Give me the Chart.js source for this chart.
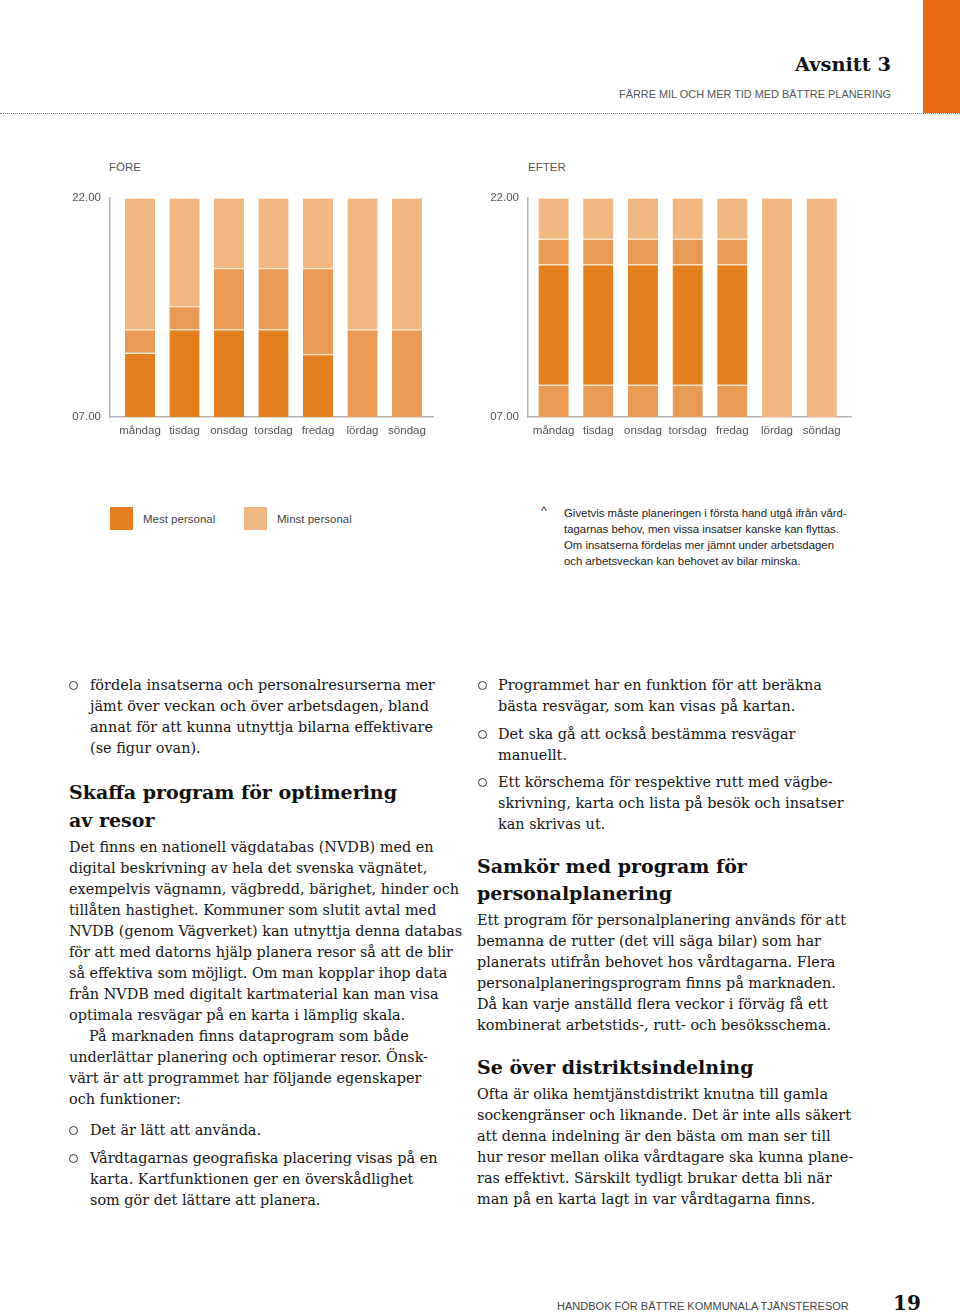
<!DOCTYPE html>
<html lang="sv">
<head>
<meta charset="utf-8">
<script src="https://cdn.jsdelivr.net/npm/chart.js@4/dist/chart.umd.min.js"></script>
<style>
  html, body { margin: 0; padding: 0; background: #fff; }
  body { width: 960px; height: 1314px; position: relative; overflow: hidden; font-family: "Liberation Sans", Arial, sans-serif; color: #222; }
  .abs { position: absolute; white-space: nowrap; }
  .flik { position: absolute; left: 923px; top: 0; width: 37px; height: 113px; background: #e8690f; }
  .prickar { position: absolute; left: 0; top: 113px; width: 960px; height: 0; border-top: 1.5px dotted #777; }
  .sans { font-family: "Liberation Sans", Arial, sans-serif; color: #444; }
  .serif { font-family: "DejaVu Serif", serif; color: #161616; }
  .rubrik { font-family: "DejaVu Serif", serif; font-weight: bold; color: #111; }
  .rad { line-height: 21px; height: 21px; }
  .punkt { position: absolute; width: 7px; height: 7px; border: 1px solid #333; border-radius: 50%; }
  .ruta { position: absolute; width: 23px; height: 23px; }
  .diagram { position: absolute; width: 380px; height: 260px; }
</style>
</head>
<body>
<div class="flik"></div>
<div class="prickar"></div>

<div class="diagram" style="left:60px; top:182px;"><canvas id="fore"></canvas></div>
<div class="diagram" style="left:478px; top:182px;"><canvas id="efter"></canvas></div>

<div id="sida"></div>

<script>
// veckodagar och axelmärken
const dagar = ['måndag', 'tisdag', 'onsdag', 'torsdag', 'fredag', 'lördag', 'söndag'];
const timmar = [7, 22];
const timEtiketter = ['07.00', '22.00'];

// FÖRE: [start, slut] i timmar per dag
const foreMest   = [[7, 11.4], [7, 13], [7, 13], [7, 13], [7, 11.3], null, null];
const foreMellan = [[11.4, 13], [13, 14.6], [13, 17.2], [13, 17.2], [11.3, 17.2], [7, 13], [7, 13]];
const foreMinst  = [[13, 22], [14.6, 22], [17.2, 22], [17.2, 22], [17.2, 22], [13, 22], [13, 22]];

// EFTER
const efterMellanFm = [[7, 9.2], [7, 9.2], [7, 9.2], [7, 9.2], [7, 9.2], null, null];
const efterMest     = [[9.2, 17.45], [9.2, 17.45], [9.2, 17.45], [9.2, 17.45], [9.2, 17.45], null, null];
const efterMellanEm = [[17.45, 19.2], [17.45, 19.2], [17.45, 19.2], [17.45, 19.2], [17.45, 19.2], null, null];
const efterMinst    = [[19.2, 22], [19.2, 22], [19.2, 22], [19.2, 22], [19.2, 22], [7, 22], [7, 22]];

const farger = { mest: '#e47f1f', mellan: '#e99b55', minst: '#f1b782' };

function punkter(serie) {
    var ut = [];
    for (var i = 0; i < serie.length; i++) {
        if (serie[i]) ut.push({ x: i, y: serie[i] });
    }
    return ut;
}

function dataset(serie, farg) {
    return {
        data: punkter(serie),
        backgroundColor: farg,
        borderColor: '#fbe3c9',
        borderWidth: { top: 1.5, bottom: 0, left: 0, right: 0 },
        borderSkipped: false,
        barThickness: 30,
        grouped: false
    };
}

function rita(id, serier, xMin, xMax) {
    var ctx = document.getElementById(id).getContext('2d');
    return new Chart(ctx, {
        type: 'bar',
        data: { datasets: serier },
        options: {
            responsive: true,
            maintainAspectRatio: false,
            animation: false,
            layout: { padding: { top: 4, right: 7, left: 0, bottom: 0 } },
            plugins: { legend: { display: false }, tooltip: { enabled: false } },
            scales: {
                x: {
                    type: 'linear',
                    offset: false,
                    min: xMin,
                    max: xMax,
                    grid: { display: false, drawTicks: false, offset: false },
                    border: { display: true, color: '#b3b3b3', width: 1.5 },
                    afterBuildTicks: function (s) { s.ticks = dagar.map(function (d, i) { return { value: i }; }); },
                    afterFit: function (s) { s.height = 25; },
                    ticks: {
                        padding: 7,
                        maxRotation: 0,
                        autoSkip: false,
                        color: '#555',
                        font: { family: 'Liberation Sans', size: 11.5 },
                        callback: function (v) { return dagar[v]; }
                    }
                },
                y: {
                    min: timmar[0],
                    max: timmar[1],
                    grid: { display: false, drawTicks: false },
                    border: { display: true, color: '#b3b3b3', width: 1.5 },
                    afterBuildTicks: function (s) { s.ticks = timmar.map(function (t) { return { value: t }; }); },
                    afterFit: function (s) { s.width = 50; },
                    ticks: {
                        padding: 9,
                        color: '#555',
                        font: { family: 'Liberation Sans', size: 11.5 },
                        callback: function (v) { return timEtiketter[timmar.indexOf(v)]; }
                    }
                }
            }
        }
    });
}

rita('fore', [
    dataset(foreMest, farger.mest),
    dataset(foreMellan, farger.mellan),
    dataset(foreMinst, farger.minst)
], -0.675, 6.585);

rita('efter', [
    dataset(efterMellanFm, farger.mellan),
    dataset(efterMest, farger.mest),
    dataset(efterMellanEm, farger.mellan),
    dataset(efterMinst, farger.minst)
], -0.573, 6.656);

// --- sidans text ---
var mat = document.createElement('canvas').getContext('2d');
function storlek(font, text, bredd) {
    mat.font = font.replace('SIZE', '100px');
    return 100 * bredd / mat.measureText(text).width;
}
var brodSize = storlek('SIZE "DejaVu Serif"', 'Det finns en nationell vägdatabas (NVDB) med en', 365);
var rubSize = storlek('bold SIZE "DejaVu Serif"', 'Skaffa program för optimering', 328);
var noteSize = storlek('SIZE "Liberation Sans"', 'tagarnas behov, men vissa insatser kanske kan flyttas.', 275);

var sida = document.getElementById('sida');
function text(x, y, s, klass, stil) {
    var d = document.createElement('div');
    d.className = 'abs ' + klass;
    d.textContent = s;
    d.style.left = x + 'px';
    d.style.cssText += stil || '';
    sida.appendChild(d);
    d.style.top = (y - d.offsetHeight / 2) + 'px';
    return d;
}
function rader(x, y, steg, lista, klass, stil) {
    lista.forEach(function (s, i) { text(x, y + i * steg, s, klass, stil); });
}
function punkt(x, y) {
    var p = document.createElement('div');
    p.className = 'punkt';
    p.style.left = (x - 4) + 'px';
    p.style.top = (y - 4) + 'px';
    sida.appendChild(p);
}
var brod = 'font-size:' + brodSize + 'px;';
var rub = 'font-size:' + rubSize + 'px;line-height:28px;';
var note = 'font-size:' + noteSize + 'px;line-height:16px;';

// sidhuvud
var h = text(0, 64, 'Avsnitt 3', 'rubrik', 'font-size:' + storlek('bold SIZE "DejaVu Serif"', 'Avsnitt 3', 96) + 'px;');
h.style.left = (891 - h.offsetWidth) + 'px';
var u = text(0, 94, 'FÄRRE MIL OCH MER TID MED BÄTTRE PLANERING', 'sans', 'font-size:' + storlek('SIZE "Liberation Sans"', 'FÄRRE MIL OCH MER TID MED BÄTTRE PLANERING', 273) + 'px;color:#555;');
u.style.left = (891 - u.offsetWidth) + 'px';

// diagramrubriker
text(109, 167, 'FÖRE', 'sans', 'font-size:11.5px;color:#555;');
text(528, 167, 'EFTER', 'sans', 'font-size:11.5px;color:#555;');

// teckenförklaring
var r1 = document.createElement('div'); r1.className = 'ruta'; r1.style.cssText += 'left:110px;top:507px;background:' + farger.mest; sida.appendChild(r1);
var r2 = document.createElement('div'); r2.className = 'ruta'; r2.style.cssText += 'left:244px;top:507px;background:' + farger.minst; sida.appendChild(r2);
text(143, 519, 'Mest personal', 'sans', 'font-size:11.5px;color:#444;');
text(277, 519, 'Minst personal', 'sans', 'font-size:11.5px;color:#444;');
text(541, 511, '^', 'sans', 'font-size:12px;color:#333;');
rader(564, 513, 16, [
    'Givetvis måste planeringen i första hand utgå ifrån vård-',
    'tagarnas behov, men vissa insatser kanske kan flyttas.',
    'Om insatserna fördelas mer jämnt under arbetsdagen',
    'och arbetsveckan kan behovet av bilar minska.'
], 'sans', note + 'color:#222;');

// vänster spalt
punkt(73, 685);
rader(90, 685, 21, [
    'fördela insatserna och personalresurserna mer',
    'jämt över veckan och över arbetsdagen, bland',
    'annat för att kunna utnyttja bilarna effektivare',
    '(se figur ovan).'
], 'serif rad', brod);
rader(69, 792, 28, ['Skaffa program för optimering', 'av resor'], 'rubrik', rub);
rader(69, 847, 21, [
    'Det finns en nationell vägdatabas (NVDB) med en',
    'digital beskrivning av hela det svenska vägnätet,',
    'exempelvis vägnamn, vägbredd, bärighet, hinder och',
    'tillåten hastighet. Kommuner som slutit avtal med',
    'NVDB (genom Vägverket) kan utnyttja denna databas',
    'för att med datorns hjälp planera resor så att de blir',
    'så effektiva som möjligt. Om man kopplar ihop data',
    'från NVDB med digitalt kartmaterial kan man visa',
    'optimala resvägar på en karta i lämplig skala.'
], 'serif rad', brod);
text(89, 1036, 'På marknaden finns dataprogram som både', 'serif rad', brod);
rader(69, 1057, 21, [
    'underlättar planering och optimerar resor. Önsk-',
    'värt är att programmet har följande egenskaper',
    'och funktioner:'
], 'serif rad', brod);
punkt(73, 1130);
text(90, 1130, 'Det är lätt att använda.', 'serif rad', brod);
punkt(73, 1158);
rader(90, 1158, 21, [
    'Vårdtagarnas geografiska placering visas på en',
    'karta. Kartfunktionen ger en överskådlighet',
    'som gör det lättare att planera.'
], 'serif rad', brod);

// höger spalt
punkt(482, 685);
rader(498, 685, 21, [
    'Programmet har en funktion för att beräkna',
    'bästa resvägar, som kan visas på kartan.'
], 'serif rad', brod);
punkt(482, 734);
rader(498, 734, 21, ['Det ska gå att också bestämma resvägar', 'manuellt.'], 'serif rad', brod);
punkt(482, 782);
rader(498, 782, 21, [
    'Ett körschema för respektive rutt med vägbe-',
    'skrivning, karta och lista på besök och insatser',
    'kan skrivas ut.'
], 'serif rad', brod);
rader(477, 866, 27, ['Samkör med program för', 'personalplanering'], 'rubrik', rub);
rader(477, 920, 21, [
    'Ett program för personalplanering används för att',
    'bemanna de rutter (det vill säga bilar) som har',
    'planerats utifrån behovet hos vårdtagarna. Flera',
    'personalplaneringsprogram finns på marknaden.',
    'Då kan varje anställd flera veckor i förväg få ett',
    'kombinerat arbetstids-, rutt- och besöksschema.'
], 'serif rad', brod);
text(477, 1067, 'Se över distriktsindelning', 'rubrik', rub);
rader(477, 1094, 21, [
    'Ofta är olika hemtjänstdistrikt knutna till gamla',
    'sockengränser och liknande. Det är inte alls säkert',
    'att denna indelning är den bästa om man ser till',
    'hur resor mellan olika vårdtagare ska kunna plane-',
    'ras effektivt. Särskilt tydligt brukar detta bli när',
    'man på en karta lagt in var vårdtagarna finns.'
], 'serif rad', brod);

// sidfot
text(557, 1306, 'HANDBOK FÖR BÄTTRE KOMMUNALA TJÄNSTERESOR', 'sans', 'font-size:' + storlek('SIZE "Liberation Sans"', 'HANDBOK FÖR BÄTTRE KOMMUNALA TJÄNSTERESOR', 293) + 'px;color:#444;');
text(893, 1303, '19', 'rubrik', 'font-size:20px;');
</script>
</body>
</html>
